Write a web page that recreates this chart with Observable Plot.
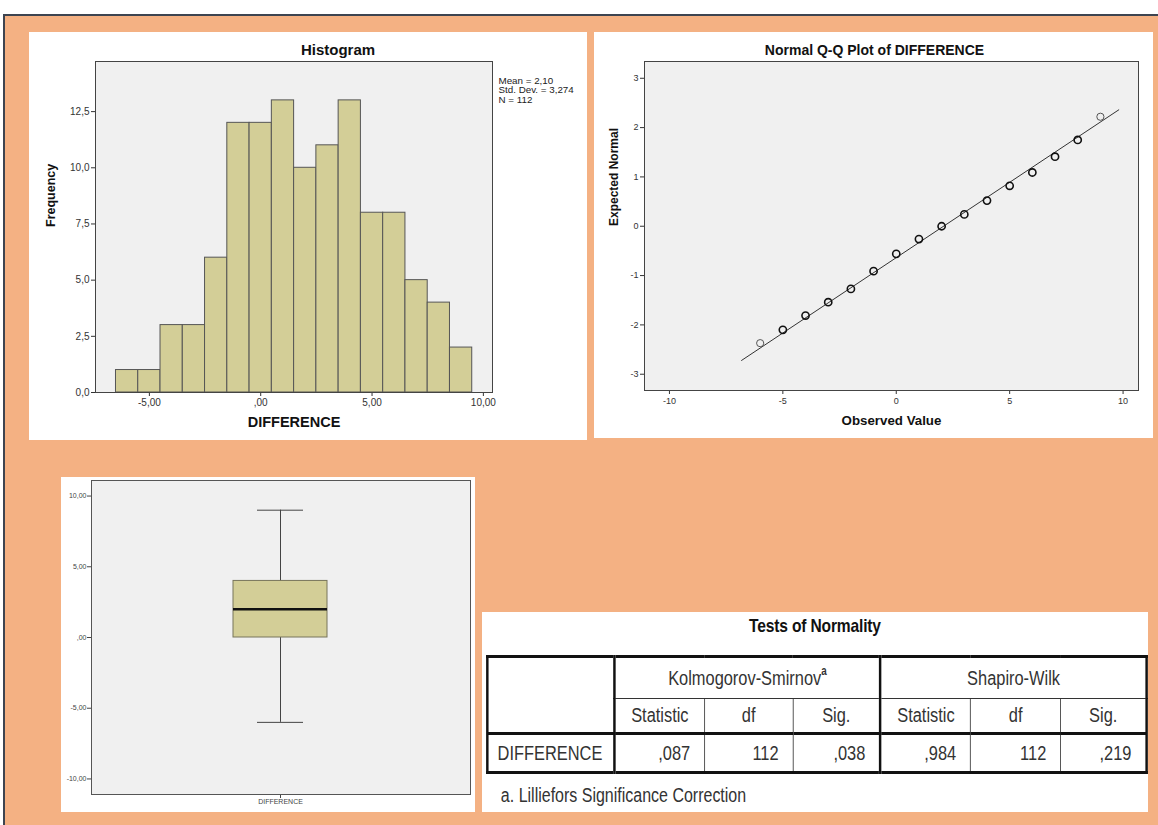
<!DOCTYPE html>
<html><head><meta charset="utf-8">
<script src="https://cdn.jsdelivr.net/npm/d3@7"></script>
<script src="https://cdn.jsdelivr.net/npm/@observablehq/plot@0.6"></script>
<style>
body{margin:0;background:#fff;width:1158px;height:825px;overflow:hidden;position:relative;font-family:"Liberation Sans",Arial,sans-serif;}
#bg{position:absolute;left:3px;top:14px;width:1155px;height:811px;background:#F4B183;border-top:2px solid #3d4450;border-left:2px solid #3d4450;box-sizing:border-box;}
.panel{position:absolute;background:#fff;}
.panel svg{position:absolute;left:0;top:0;}
#wrap{position:absolute;left:0;top:0;width:812px;height:200px;transform:scaleX(0.82);transform-origin:0 0;font-family:"Liberation Sans",Arial,sans-serif;}
#ttitle{position:absolute;left:0;width:812px;top:3px;text-align:center;font-size:19px;font-weight:bold;color:#111;letter-spacing:-0.2px;}
#foot{position:absolute;left:23px;top:172px;font-size:19.5px;color:#333;}
table{position:absolute;left:5px;top:43px;border-collapse:collapse;table-layout:fixed;font-size:20px;color:#333;border:3px solid #111;}
td{border:1px solid #333;padding:0;white-space:nowrap;overflow:hidden;text-align:center;}
td.num{text-align:right;padding-right:17px;}
td.rl{text-align:left;padding-left:11px;}
td.thickR{border-right:3px solid #111;}
tr.h2 td{border-bottom:3px solid #111;}
sup{font-size:12px;font-weight:bold;vertical-align:top;position:relative;top:-3px;}
</style></head><body>
<div id="bg"></div>
<div id="hist" class="panel" style="left:29px;top:32px;width:558px;height:408px"></div>
<div id="qq" class="panel" style="left:594px;top:32px;width:559px;height:406px"></div>
<div id="box" class="panel" style="left:61px;top:477px;width:414px;height:335px"></div>
<div id="tbl" class="panel" style="left:482px;top:612px;width:666px;height:200px">
  <div id="wrap">
    <div id="ttitle"></div>
    <table id="t"></table>
    <div id="foot"></div>
  </div>
</div>
<script>
// ---------- data ----------
const binCenters = [-6,-5,-4,-3,-2,-1,0,1,2,3,4,5,6,7,8,9];
const binCounts  = [1,1,3,3,6,12,12,13,10,11,13,8,8,5,4,2];
const histTicksX = [-5,0,5,10];
const histTicksY = [0,2.5,5,7.5,10,12.5];
const statsLines = ["Mean = 2,10","Std. Dev. = 3,274","N = 112"];

const qqObserved = [-6,-5,-4,-3,-2,-1,0,1,2,3,4,5,6,7,8,9];
const qqExpected = [-2.37,-2.10,-1.81,-1.54,-1.27,-0.91,-0.56,-0.26,0.00,0.24,0.52,0.82,1.09,1.41,1.75,2.22];
const qqLineX = [-6.82, 9.81];
const qqLineY = [-2.72, 2.36];
const qqTicksX = [-10,-5,0,5,10];
const qqTicksY = [-3,-2,-1,0,1,2,3];

const boxLabel = "DIFFERENCE";
const boxMin = -6, boxQ1 = 0, boxMedian = 2, boxQ3 = 4, boxMax = 9;
const boxTicksY = [-10,-5,0,5,10];

const tableTitle = "Tests of Normality";
const testNames = ["Kolmogorov-Smirnov","Shapiro-Wilk"];
const testMarks = ["a",""];
const statNames = ["Statistic","df","Sig."];
const rowLabel = "DIFFERENCE";
const ksValues = [",087","112",",038"];
const swValues = [",984","112",",219"];
const footnote = "a. Lilliefors Significance Correction";

// ---------- helpers ----------
const fmt1 = d => d.toFixed(1).replace(".", ",");
const fmt2 = d => d.toFixed(2).replace(".", ",").replace(/^(-?)0,/, "$1,");
const fmt0 = d => String(d);
const FONT = "Liberation Sans, Arial, sans-serif";
const BAR = "#D3CE97", BG = "#F0F0F0", FR = "#444";

// ---------- histogram ----------
const histData = binCenters.map((c,i)=>({lo:c-0.5, hi:c+0.5, n:binCounts[i]}));
document.getElementById("hist").append(Plot.plot({
  width:558, height:408, marginLeft:66, marginRight:95, marginTop:29, marginBottom:48,
  style:{background:"transparent", fontFamily:FONT, fontSize:"10px", color:"#333", overflow:"visible"},
  x:{domain:[-7.42,10.41], ticks:histTicksX, tickFormat:fmt2, tickSize:4, tickPadding:2, label:null},
  y:{domain:[0,14.73], ticks:histTicksY, tickFormat:fmt1, tickSize:4, tickPadding:2, label:null},
  marks:[
    Plot.frame({fill:BG}),
    Plot.rectY(histData,{x1:"lo",x2:"hi",y1:0,y2:"n",fill:BAR,stroke:"#555",strokeWidth:1}),
    Plot.frame({stroke:FR}),
    Plot.text(["Histogram"],{text:d=>d,frameAnchor:"top",lineAnchor:"middle",dy:-11,dx:44,fontWeight:"bold",fontSize:15,fill:"#111"}),
    Plot.text(["DIFFERENCE"],{text:d=>d,frameAnchor:"bottom",lineAnchor:"middle",dy:30,fontWeight:"bold",fontSize:14.5,fill:"#111"}),
    Plot.text(["Frequency"],{text:d=>d,frameAnchor:"left",dx:-45,rotate:-90,fontWeight:"bold",fontSize:12.5,fill:"#111"}),
    Plot.text([statsLines.join("\n")],{text:d=>d,frameAnchor:"top-right",dx:6,dy:16,textAnchor:"start",lineAnchor:"top",lineHeight:0.95,fontSize:9.8,fill:"#222"})
  ]
}));

// ---------- Q-Q ----------
const qqData = qqObserved.map((x,i)=>({x, y:qqExpected[i]}));
const qqLine = qqLineX.map((x,i)=>({x, y:qqLineY[i]}));
document.getElementById("qq").append(Plot.plot({
  width:559, height:406, marginLeft:50, marginRight:15, marginTop:29, marginBottom:48,
  style:{background:"transparent", fontFamily:FONT, fontSize:"9px", color:"#333", overflow:"visible"},
  x:{domain:[-11.1,10.68], ticks:qqTicksX, tickFormat:fmt0, tickSize:4, tickPadding:3, label:null},
  y:{domain:[-3.33,3.34], ticks:qqTicksY, tickFormat:fmt0, tickSize:4, tickPadding:2, label:null},
  marks:[
    Plot.frame({fill:BG}),
    Plot.line(qqLine,{x:"x",y:"y",stroke:"#333",strokeWidth:1}),
    Plot.dot(qqData,{x:"x",y:"y",r:3.6,stroke:(d,i)=> (i===0||i===qqData.length-1) ? "#555" : "#111",strokeWidth:(d,i)=> (i===0||i===qqData.length-1) ? 1 : 1.6,fill:"none"}),
    Plot.frame({stroke:FR}),
    Plot.text(["Normal Q-Q Plot of DIFFERENCE"],{text:d=>d,frameAnchor:"top",lineAnchor:"middle",dy:-11,dx:-17,fontWeight:"bold",fontSize:14,fill:"#111"}),
    Plot.text(["Observed Value"],{text:d=>d,frameAnchor:"bottom",lineAnchor:"middle",dy:30,fontWeight:"bold",fontSize:13.3,fill:"#111"}),
    Plot.text(["Expected Normal"],{text:d=>d,frameAnchor:"left",dx:-30,rotate:-90,fontWeight:"bold",fontSize:12,fill:"#111"})
  ]
}));

// ---------- boxplot ----------
const boxRow = [{label:boxLabel, min:boxMin, q1:boxQ1, med:boxMedian, q3:boxQ3, max:boxMax}];
document.getElementById("box").append(Plot.plot({
  width:414, height:335, marginLeft:30, marginRight:5, marginTop:3, marginBottom:18,
  style:{background:"transparent", fontFamily:FONT, fontSize:"7px", color:"#444", overflow:"visible"},
  x:{type:"band", domain:[boxLabel], padding:0.6, tickSize:4, tickPadding:1, label:null},
  y:{domain:[-11.1,11.1], ticks:boxTicksY, tickFormat:fmt2, tickSize:4, tickPadding:1, label:null},
  marks:[
    Plot.frame({fill:BG}),
    Plot.ruleX(boxRow,{x:"label",y1:"min",y2:"max",stroke:"#444",strokeWidth:1}),
    Plot.barY(boxRow,{x:"label",y1:"q1",y2:"q3",fill:BAR,stroke:"#77745a",strokeWidth:1}),
    Plot.tickY(boxRow,{x:"label",y:"med",stroke:"#111",strokeWidth:2.5}),
    Plot.tickY(boxRow,{x:"label",y:"max",stroke:"#444",strokeWidth:1,inset:24}),
    Plot.tickY(boxRow,{x:"label",y:"min",stroke:"#444",strokeWidth:1,inset:24}),
    Plot.frame({stroke:"#555"})
  ]
}));

// ---------- table ----------
document.getElementById("ttitle").textContent = tableTitle;
document.getElementById("foot").textContent = footnote;
const colW = [155,110,108,107,110,110,105];
const t = document.getElementById("t");
let html = "<colgroup>" + colW.map(w=>`<col style="width:${w}px">`).join("") + "</colgroup>";
html += `<tr style="height:42px"><td rowspan="2" class="thickR"></td>` +
  testNames.map((n,i)=>`<td colspan="3" class="${i===0?'thickR':''}">${n}${testMarks[i]?`<sup>${testMarks[i]}</sup>`:""}</td>`).join("") + "</tr>";
html += `<tr class="h2" style="height:35px">` +
  [0,1].map(g=>statNames.map((s,j)=>`<td class="${(g===0&&j===2)?'thickR':''}">${s}</td>`).join("")).join("") + "</tr>";
html += `<tr style="height:39px"><td class="rl thickR">${rowLabel}</td>` +
  ksValues.map((v,j)=>`<td class="num ${j===2?'thickR':''}">${v}</td>`).join("") +
  swValues.map(v=>`<td class="num">${v}</td>`).join("") + "</tr>";
t.innerHTML = html;
t.rows[0].cells[0].style.borderBottom = "3px solid #111";
</script>
</body></html>
